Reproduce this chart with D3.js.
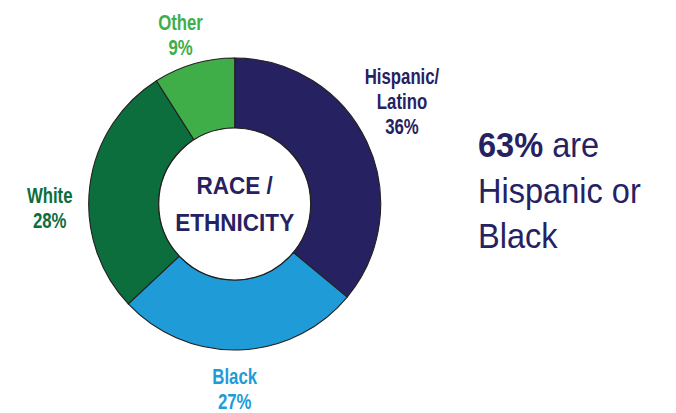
<!DOCTYPE html>
<html><head><meta charset="utf-8">
<script src="https://cdn.jsdelivr.net/npm/d3@7"></script>
<style>html,body{margin:0;padding:0;background:#fff;}svg{display:block;}</style>
</head><body>
<svg id="chart" width="676" height="413"></svg>
<script>
// Data
const categories = ["Hispanic/Latino", "Black", "White", "Other"];
const values = [36, 27, 28, 9];
const labelLines = [["Hispanic/", "Latino"], ["Black"], ["White"], ["Other"]];
const colors = ["#262262", "#1f9bd7", "#0c6e3d", "#3fae49"];
const centerLines = ["RACE /", "ETHNICITY"];
const calloutBold = "63%";
const calloutRest = [" are", "Hispanic or", "Black"];

// Layout (positions/styles)
const cx = 234.7, cy = 204, rOuter = 146, rInner = 76;
const labelAnchors = {
  "Hispanic/Latino": [402, 84],
  "Black": [234.7, 384],
  "White": [49.7, 202.7],
  "Other": [180.5, 30]
};
const labelLineH = 24.9;

const svg = d3.select("#chart");
const g = svg.append("g").attr("transform", `translate(${cx},${cy})`);

const pie = d3.pie().sort(null).value(d => d.v);
const arcs = pie(categories.map((c, i) => ({c, v: values[i], i})));
const arc = d3.arc().innerRadius(rInner).outerRadius(rOuter);

g.selectAll("path.slice").data(arcs).join("path")
  .attr("class", "slice")
  .attr("d", arc)
  .attr("fill", d => colors[d.data.i])
  .attr("stroke", "#231f20")
  .attr("stroke-width", 1.1)
  .attr("stroke-linejoin", "miter");

g.append("circle").attr("r", rInner).attr("fill", "#fff")
  .attr("stroke", "#231f20").attr("stroke-width", 1.2);

// Center text
const ct = svg.append("g").attr("transform", `translate(${cx},0) scale(0.92,1)`);
ct.selectAll("text").data(centerLines).join("text")
  .attr("x", 0)
  .attr("y", (d, i) => [194, 231.5][i])
  .attr("text-anchor", "middle")
  .attr("font-family", "Liberation Sans, Arial, sans-serif")
  .attr("font-weight", "bold")
  .attr("font-size", 24.5)
  .attr("fill", "#262262")
  .text(d => d);

// Slice labels
arcs.forEach(d => {
  const i = d.data.i;
  const [lx, ly] = labelAnchors[d.data.c];
  const lines = labelLines[i].concat([values[i] + "%"]);
  const lg = svg.append("g").attr("transform", `translate(${lx},${ly}) scale(0.78,1)`);
  lg.selectAll("text").data(lines).join("text")
    .attr("x", 0)
    .attr("y", (t, j) => j * labelLineH)
    .attr("text-anchor", "middle")
    .attr("font-family", "Liberation Sans, Arial, sans-serif")
    .attr("font-weight", "bold")
    .attr("font-size", 21.5)
    .attr("fill", colors[i])
    .text(t => t);
});

// Callout text
const co = svg.append("g").attr("transform", `translate(478,0) scale(0.93,1)`);
const t1 = co.append("text").attr("x", 0).attr("y", 157.3)
  .attr("font-family", "Liberation Sans, Arial, sans-serif")
  .attr("font-size", 35).attr("fill", "#262262");
t1.append("tspan").attr("font-weight", "bold").text(calloutBold);
t1.append("tspan").text(calloutRest[0]);
co.append("text").attr("x", 0).attr("y", 202.8)
  .attr("font-family", "Liberation Sans, Arial, sans-serif")
  .attr("font-size", 35).attr("fill", "#262262").text(calloutRest[1]);
co.append("text").attr("x", 0).attr("y", 248.5)
  .attr("font-family", "Liberation Sans, Arial, sans-serif")
  .attr("font-size", 35).attr("fill", "#262262").text(calloutRest[2]);
</script>
</body></html>
